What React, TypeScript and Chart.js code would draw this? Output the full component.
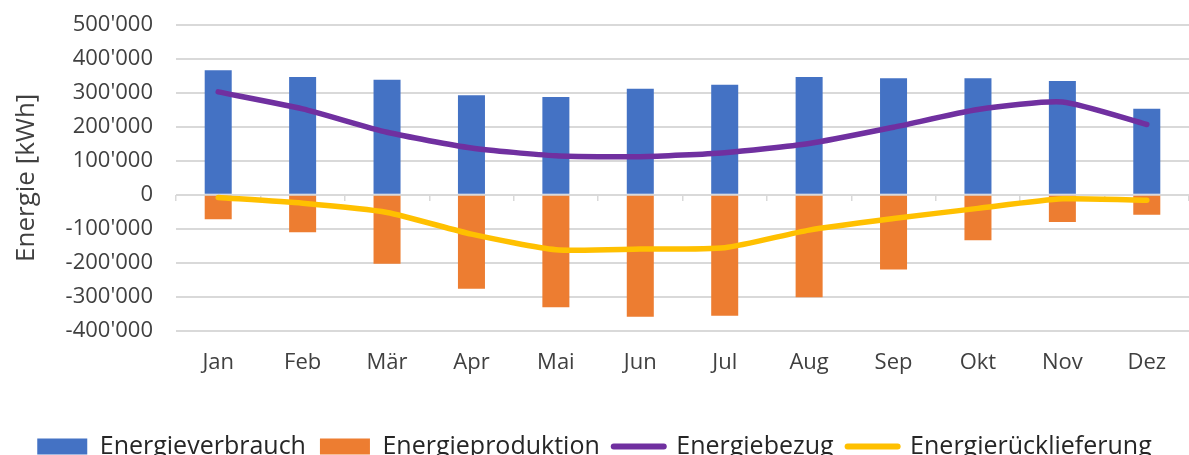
import React, { useEffect, useRef } from "react";
import { Chart, registerables } from "chart.js";

Chart.register(...registerables);

const MONTHS = ["Jan", "Feb", "Mär", "Apr", "Mai", "Jun", "Jul", "Aug", "Sep", "Okt", "Nov", "Dez"];
const VERBRAUCH = [367000, 347000, 339000, 293000, 288000, 312000, 324000, 347000, 343000, 343000, 335000, 253000];
const PRODUKTION = [-72000, -110000, -203000, -277000, -331000, -359000, -356000, -302000, -220000, -134000, -80000, -59000];
const BEZUG = [303000, 253000, 184000, 138000, 115000, 112000, 124000, 151000, 199000, 251000, 273000, 207000];
const RUECK = [-8000, -25000, -52000, -116000, -162000, -160000, -156000, -104000, -70000, -40000, -12000, -16000];
const Y_MIN = -400000;
const Y_MAX = 500000;
const Y_STEP = 100000;

const FONT = "'Open Sans', 'Noto Sans', sans-serif";

function fmt(v: number): string {
  const s = Math.abs(v).toString().replace(/\B(?=(\d{3})+(?!\d))/g, "'");
  return (v < 0 ? "-" : "") + s;
}

export default function App() {
  const ref = useRef<HTMLCanvasElement | null>(null);

  useEffect(() => {
    document.body.style.margin = "0";
    document.body.style.overflow = "hidden";
    document.documentElement.style.overflow = "hidden";
    const canvas = ref.current;
    if (!canvas) return;
    const chart = new Chart(canvas, {
      type: "bar",
      data: {
        labels: MONTHS,
        datasets: [
          {
            type: "bar",
            label: "Energieverbrauch",
            data: VERBRAUCH,
            backgroundColor: "#4472C4",
            grouped: false,
            barPercentage: 0.32,
            categoryPercentage: 1,
            order: 2,
            xAxisID: "x",
          } as any,
          {
            type: "bar",
            label: "Energieproduktion",
            data: PRODUKTION,
            backgroundColor: "#ED7D31",
            grouped: false,
            barPercentage: 0.32,
            categoryPercentage: 1,
            order: 2,
            xAxisID: "x",
          } as any,
          {
            type: "line",
            label: "Energiebezug",
            data: BEZUG,
            borderColor: "#7030A0",
            backgroundColor: "#7030A0",
            borderWidth: 5.5,
            borderCapStyle: "round",
            borderJoinStyle: "round",
            tension: 0.2,
            pointRadius: 0,
            pointHoverRadius: 0,
            fill: false,
            order: 1,
            xAxisID: "x",
          } as any,
          {
            type: "line",
            label: "Energierücklieferung",
            data: RUECK,
            borderColor: "#FFC000",
            backgroundColor: "#FFC000",
            borderWidth: 5.5,
            borderCapStyle: "round",
            borderJoinStyle: "round",
            tension: 0.2,
            pointRadius: 0,
            pointHoverRadius: 0,
            fill: false,
            order: 0,
            xAxisID: "x",
          } as any,
        ],
      },
      options: {
        animation: false,
        responsive: false,
        maintainAspectRatio: false,
        layout: { padding: { top: 25, right: 0, left: 0, bottom: 0 } },
        scales: {
          x: {
            type: "category",
            position: "bottom",
            grid: { display: false, drawTicks: false },
            border: { display: false },
            ticks: {
              color: "#404040",
              font: { family: FONT, size: 22 },
              padding: 19,
              maxRotation: 0,
              autoSkip: false,
            },
            afterFit: (scale: any) => {
              scale.height += 25;
            },
          } as any,
          x2: {
            type: "category",
            labels: MONTHS,
            display: true,
            position: { y: 0 },
            offset: true,
            grid: {
              offset: true,
              drawOnChartArea: false,
              drawTicks: true,
              tickLength: 6,
              color: "#d9d9d9",
              lineWidth: 1.5,
            },
            border: { display: false },
            ticks: { display: false },
          } as any,
          y: {
            min: Y_MIN,
            max: Y_MAX,
            grid: {
              color: "#d9d9d9",
              lineWidth: 2,
              drawTicks: true,
              tickLength: 20,
              tickColor: "rgba(0,0,0,0)",
            },
            border: { display: false },
            ticks: {
              stepSize: Y_STEP,
              autoSkip: false,
              color: "#404040",
              font: { family: FONT, size: 22 },
              padding: 3,
              callback: (v: any) => fmt(Number(v)),
            },
            title: {
              display: true,
              text: "Energie [kWh]",
              color: "#404040",
              font: { family: FONT, size: 26 },
              padding: { top: 11, bottom: 0 },
            },
            afterFit: (scale: any) => {
              scale.width = 176;
            },
          } as any,
        },
        plugins: {
          tooltip: { enabled: false },
          title: { display: false },
          legend: {
            display: true,
            position: "bottom",
            labels: {
              color: "#262626",
              font: { family: FONT, size: 25 },
              usePointStyle: true,
              pointStyleWidth: 50,
              boxHeight: 16,
              padding: 14,
              sort: (a: any, b: any) => a.datasetIndex - b.datasetIndex,
              generateLabels: (chart: any) => {
                const items = Chart.defaults.plugins.legend.labels.generateLabels(chart);
                return items.map((it: any) => {
                  const ds = chart.data.datasets[it.datasetIndex];
                  if (ds.type === "line") {
                    return {
                      ...it,
                      pointStyle: "line",
                      lineWidth: 6,
                      lineCap: "round",
                      strokeStyle: ds.borderColor,
                      fillStyle: ds.borderColor,
                    };
                  }
                  return { ...it, pointStyle: "rect", lineWidth: 0 };
                });
              },
            },
          },
        },
      } as any,
    });
    return () => chart.destroy();
  }, []);

  return (
    <div style={{ width: 1189, height: 455, overflow: "hidden", position: "relative" }}>
      <canvas ref={ref} width={1189} height={469} style={{ display: "block", width: 1189, height: 469 }} />
    </div>
  );
}
